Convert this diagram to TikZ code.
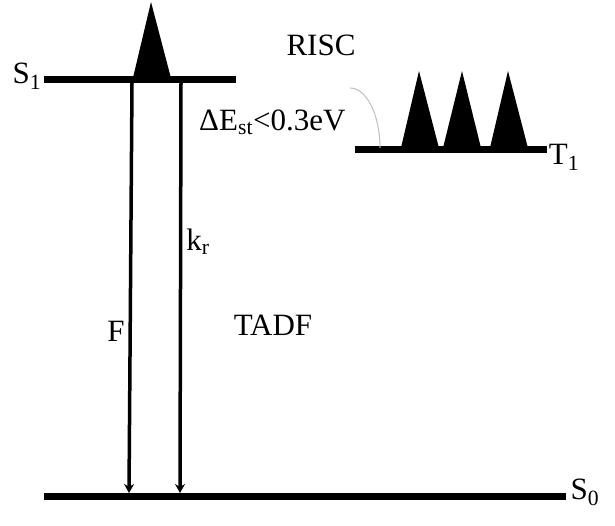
\documentclass[tikz,border=0pt]{standalone}
\usepackage{fontspec}
\setmainfont{Liberation Serif}
\usetikzlibrary{arrows.meta,positioning}
\tikzset{
    level line/.style={line width=7pt},
    peak/.style={fill=black,draw=none},
    arr/.style={-{Stealth[length=9pt,width=10pt]},line width=3.5pt},
    risc arc/.style={black!25,line width=1pt},
    label text/.style={font=\fontsize{31}{36}\selectfont,inner sep=0pt},
}

\begin{document}
\begin{tikzpicture}[x=1pt,y=-1pt]
        \useasboundingbox (0,0) rectangle (615,526);
        % levels
        \coordinate (s1l) at (44,80);  \coordinate (s1r) at (236,80);
        \coordinate (t1l) at (355,150); \coordinate (t1r) at (547,150);
        \coordinate (s0l) at (44,496); \coordinate (s0r) at (566,496);
        \draw[level line] (s1l) -- (s1r);
        \draw[level line] (t1l) -- (t1r);
        \draw[level line] (s0l) -- (s0r);

        % peaks
        \fill[peak] (132,82) -- (151,2) -- (172,82) -- cycle;
        \fill[peak] (400,152) -- (419,71) -- (440,152) -- cycle;
        \fill[peak] (442,152) -- (462,71) -- (482,152) -- cycle;
        \fill[peak] (489,152) -- (508,71) -- (529,152) -- cycle;

        % transitions
        \coordinate (ftop) at (132,83); \coordinate (fbot) at (129,493);
        \coordinate (ktop) at (181,83); \coordinate (kbot) at (180,493);
        \draw[arr] (ftop) -- (fbot);
        \draw[arr] (ktop) -- (kbot);
        \draw[risc arc] (350,88) arc[start angle=-90,end angle=0,x radius=30,y radius=60];

        \node[label text] (s1) at (27,76) {S\textsubscript{1}};
        \node[label text] (t1) at (564,157) {T\textsubscript{1}};
        \node[label text] (s0) at (585,492) {S\textsubscript{0}};
        \node[label text] (risc) at (321,45) {RISC};
        \node[label text,anchor=west] (gap) at (199,122) {ΔE\textsubscript{st}<0.3eV};
        \node[label text] (kr) at (198,242) {k\textsubscript{r}};
        \node[label text] (f) at (116,331) {F};
        \node[label text] (tadf) at (273,325) {TADF};
    \end{tikzpicture}
\end{document}
